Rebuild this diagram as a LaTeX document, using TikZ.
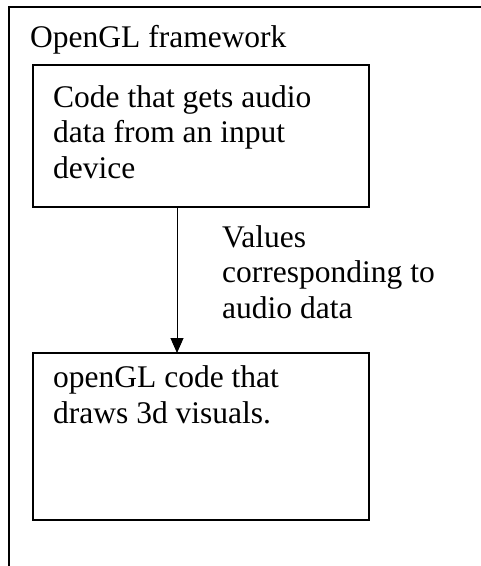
\documentclass[tikz,border=0pt]{standalone}
\usepackage{fontspec}
\setmainfont{Liberation Serif}
\usetikzlibrary{arrows.meta}
\begin{document}
\begin{tikzpicture}[x=1pt,y=-1pt,
  every node/.style={font=\fontsize{31.5}{35.5}\selectfont},
  codebox/.style={draw,line width=1.5pt,inner sep=0pt,outer sep=0pt,anchor=north west},
  boxtext/.style={anchor=base west,inner sep=0pt,align=left},
  flow/.style={line width=1pt,-{Triangle[length=15pt,width=13pt]}}]
  \useasboundingbox (0,0) rectangle (481,566);
  \clip (0,0) rectangle (481,566);
  % framework frame, running past the page edges
  \draw[line width=1.5pt] (9,7) rectangle (500,590);
  \node[boxtext] (title) at (30,47) {OpenGL framework};
  % input stage (text placed by the baseline of its last line)
  \node[codebox,minimum width=336pt,minimum height=142pt] (src) at (33,65) {};
  \node[boxtext] (srctext) at (53,178) {Code that gets audio\\data from an input\\device};
  % drawing stage
  \node[codebox,minimum width=336pt,minimum height=167pt] (dst) at (33,353) {};
  \node[boxtext] (dsttext) at (53,423) {openGL code that\\draws 3d visuals.};
  % data passed between them
  \coordinate (ax) at (177,0);
  \draw[flow] (ax |- src.south) -- (ax |- dst.north);
  \node[boxtext] (flowlabel) at (222,318) {Values\\corresponding to\\audio data};
\end{tikzpicture}
\end{document}
